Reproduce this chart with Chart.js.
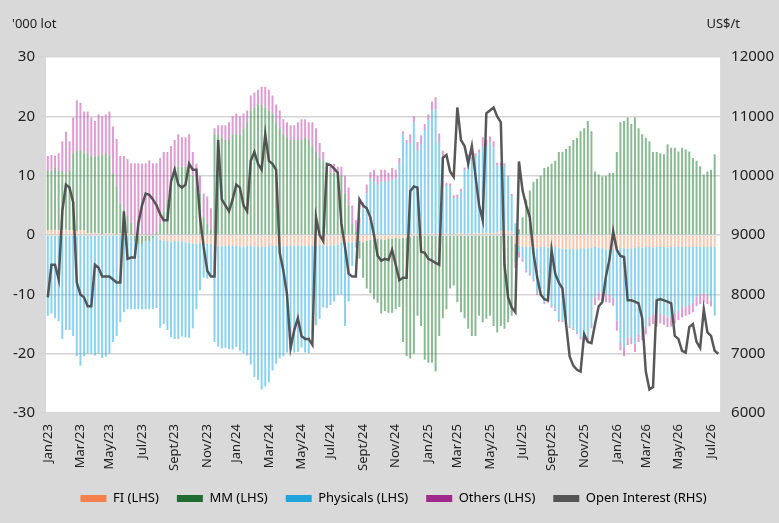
<!DOCTYPE html>
<html>
<head>
<meta charset="utf-8">
<script src="https://cdn.jsdelivr.net/npm/chart.js@4"></script>
<style>
  html, body { margin: 0; padding: 0; background: #d9d9d9; }
  #wrap { width: 779px; height: 523px; }
</style>
</head>
<body>
<div id="wrap"><canvas id="c"></canvas></div>
<script>
// weekly data, first week 2 Jan 2023, 185 weeks ('000 lots, OI in US$/t scale)
const fi = [
  0.8,0.8,0.9,0.8,0.8,0.9,0.8,0.8,0.7,0.8,0.8,
  0.3,0.3,0.4,0.3,0.2,0.3,0.3,0.3,0.2,0.3,0.3,0.3,
  0.1,0.1,0.1,0,0.1,0.1,0.1,0.1,
  -0.8,-1,-1,-1.2,-1,-1,-1.1,-1.2,-1.3,-1.4,-1.5,-1.3,-1.4,-1.5,-1.5,
  -1.8,-1.8,-1.9,-1.8,-1.7,-1.8,-1.8,-2,-1.9,-1.8,-1.8,-1.9,-1.9,-2,-2,-1.8,-1.8,-1.7,-1.8,-1.9,-1.8,-1.8,-1.8,-1.7,-1.8,-1.8,-1.9,-1.8,-1.7,-1.6,-1.7,-1.8,-1.8,-1.7,-1.6,
  -1.2,-1.3,-1.2,-1.2,-1.1,-1,-1.2,-1,-0.8,-0.8,
  -0.6,-0.7,-0.8,-0.6,-0.6,-0.5,-0.6,-0.5,-0.4,-0.3,
  0.3,0.2,0.3,0.2,0.3,0.3,0.2,0.3,0.2,0.3,0.2,0.2,0.3,0.3,0.2,0.3,0.2,0.3,0.3,0.3,0.4,0.3,0.3,0.4,
  0.7,0.8,0.7,0.6,
  -1.5,-1.8,-2,-2,-2,-2.1,-2.2,-2,-2,-2.1,-2,-2,-2.2,-2.3,-2.3,-2.4,-2.4,-2.4,-2.3,-2.2,-2.2,-2.1,-2,-2.1,-2.2,-2.4,-2.5,-2.4,-2.3,-2.2,-2.2,-2.3,-2.2,-2.1,-2,-2.1,-2,-2,-2.1,-2,-2,-2,-2.1,-2,-2,-1.9,-2,-2,-2,-2,-1.9,-2,-2,-2,-2,-2
];
const mm = [
  10,10,10.5,10, 10,9.5,10, 13,13.5,13.5,13,13.5, 13,12.8,13,13.3,13.5,13, 10,8,
  5,4,3,2, -1,-1.5,-1.5,-1,-1,-0.5,0.5, 2,4,6,8, 11,11.5,11.5,11.5,11, 10,8,7, 3,2,1,
  17,17,16.5,16,16, 17,17,17,18,19, 21,21.5,22,22,21.5,21, 20.5,19,18,17,16.5,16,
  16,16,16,16.5,16, 15,14,13,12.5, 11,10.5,10.5,10,10, 7,5,2,0.5,
  -3,-6,-8,-9,-10,-10.8,-12.5,-12,-12.5, -12.5,-12,-11.5,-17.5,-20,
  -20.5,-20,-13.6,-15.3,-21,-21.5,-21.5,-23, -17,-14,-12.5,-9, -8.5,-11.3,-13, -14,-15.8,
  -17,-17,-13.6, -14.7,-14.1, -13.6,-15.3, -16.4,-15.3, -15.8,-14.7,-13.6, -3,1,3,
  6,7.5,9,9.5,10, 11.3,11.5,12,12.5,14,14, 14.5,15,16,16.4,17.5,18,19.2,
  17.5,10.7,10.2,9.9,10,10.5,10.5, 14,19,19.2,19.8,18.7,19.8,18,17,16.4,15.8,
  14,14,13.8,13.6,15.3,14.7,14.7,14.1,14.7,14.4,14.1, 13,12.5,11.6,10.2,10.7,11,13.6
];
const physicals = [
  -13.6,-13.2,-14,-14.5, -17.5,-16,-16, -17,-20.4,-22,-20.4,-20, -20,-20.3,-20,-20.7,-20.5,-20, -18,-17,
  -14.7,-13,-12.5,-12.5, -11.5,-11,-11,-11.5,-11.5,-12,-12.3, -14.8,-14,-15,-16, -16.5,-16.5,-16,-16,-16,
  -14.3,-11,-8, -5.8,-5.8,-5.5,
  -16.2,-17,-17.2,-17.2,-17.5, -17.5,-17,-17.5,-18,-18.5, -20,-22,-22.5,-24,-23.5,-23, -21,-20,-19,-18.5,-18,-17.7,
  -18,-18,-17.2,-18,-18, -15,-13.5,-12.5,-10.5, -10.5,-10,-9.5,-8.5,-8.8, -14,-10,-4,-1,
  2,4.5,7,9.6,9,8.5,9,9,9, 9.3,9.5,12,17,15.5,
  15.5,18.7,14,15,17.5,19,20.7,21, 15.3,13,8,8, 6,6,7, 10.7,13, 12.5,13,13.6, 14.7,14.7, 15.3,14.5,
  11.3,11, 11,9,6, 2,-1,-2,
  -4,-4.5,-5.4,-7.6,-8, -9.3,-9,-9.9,-10.5,-12.1,-12.1, -12.5,-13,-13.3,-14,-15,-15,-15,
  -13.3,-8.5,-7.6,-7.6,-7.6,-7.6,-8.2,
  -12.1,-16,-16.8,-15,-15,-16.2,-14.8,-14.4,-13.5,-11.8,
  -11.3,-11.8,-11.3,-11.5,-11.8,-11.8,-11.3,-10.8,-10.3,-10,-9.8,
  -9.4,-8.5,-8,-7.8,-8,-9,-11.6
];
const others = [
  2.5,2.7,2,3, 5,7,5, 6,8.5,8,7,7, 6.5,6,7,6.5,6.5,7.5, 8,8,
  8,9,9.5,10, 12,12,12,12,12.5,12,11.5, 11,10,8,7, 5,5.5,5,5,6, 4,4,3, 4,4.5,3.5,
  1,1.5,2,2.5,3, 3,3.5,3,2.5,2, 2.5,2.5,2.5,3,3.5,3.5, 3,3,3,2.5,2.5,2.5,
  2.5,3,3.5,3,3, 4,4,2.5,1.5, 0.5,1,1.5,1.5,1.5, 3,3,3,2,
  1,1,1.5,1,2,1.5,2,2,1.5, 2,1.5,1,0.5,0.5,
  1.5,1,1.5,1.5,1,1,1.5,2, 1.5,1,0.5,0.5, 0.5,0.5,0.5, 0.5,0.3, 0.5,0.5,0.5, 1.5,1, 1,1,
  0.5,0.5, 0.3,0.3,0.3, -1,-1,-0.5,
  -0.3,-0.3,-0.3,-0.3,-0.3,-0.3,-0.3,-0.3,-0.3,-0.3,-0.3,-0.3,-0.3,-0.3,-0.3,-0.3,
  -0.6,-0.6,-0.3, -1.3,-1.3,-1.3,-1.3,-1.3,-1.3,
  -1.7,-1.2,-1.4,-1.2,-1.2,-1.4,-1.2,-1.2,-1.2,-1.6,
  -1.6,-1.6,-1.6,-1.6,-1.6,-1.6,-1.6,-1.6,-1.6,-1.6,-1.6,-1.6,-1.6,-1.6,-1.6,-1.6,
  -1,0
];
const openInterest = [
  7950,8500,8500,8250,9400,9850,9800,9550,8200,8000,7950,7800,7800,8500,8450,8300,8300,8300,8250,8200,
  8200,9400,8600,8620,8620,9200,9500,9700,9680,9600,9500,9350,9250,9250,9900,10100,9850,9800,9850,10200,
  10100,10100,9300,8800,8400,8300,8300,10600,9600,9500,9400,9600,9850,9800,9500,9400,10250,10400,10200,10100,
  10700,10250,10200,10100,8700,8400,8000,7100,7400,7600,7300,7250,7250,7150,9300,9000,8900,10200,10180,10120,
  10050,9200,8800,8350,8300,8300,9600,9500,9450,9300,9000,8650,8570,8600,8580,8750,8500,8240,8280,8280,
  9740,9820,9800,8720,8700,8600,8570,8530,8500,10300,10350,10070,9980,11150,10600,10500,10200,10500,10000,9500,
  9250,11050,11100,11150,11000,10900,8500,7950,7780,7700,10240,9750,9500,9300,8700,8300,8000,7920,7900,8750,
  8350,8200,8100,7500,6950,6800,6730,6700,7330,7200,7180,7500,7800,7870,8300,8600,9060,8750,8650,8630,
  7900,7900,7880,7850,7600,6700,6400,6440,7900,7920,7900,7880,7850,7300,7250,7050,7020,7450,7500,7200,
  7100,7750,7360,7300,7050,7000
];

const monthNames = ['Jan','Feb','Mar','Apr','May','Jun','Jul','Aug','Sept','Oct','Nov','Dec'];
const weeks = [];
const start = new Date(Date.UTC(2023, 0, 2));
for (let i = 0; i < openInterest.length; i++) {
  weeks.push(new Date(start.getTime() + i * 7 * 86400000));
}
// show a tick label on the first week of Jan, Mar, May, Jul, Sept, Nov
function tickLabel(i) {
  const d = weeks[i];
  if (!d || d.getUTCMonth() % 2 !== 0) return '';
  const prev = weeks[i - 1];
  if (prev && prev.getUTCMonth() === d.getUTCMonth()) return '';
  return monthNames[d.getUTCMonth()] + '/' + String(d.getUTCFullYear()).slice(2);
}

const legendColours = ['#f4804b', '#1f6b30', '#21a3dc', '#a0288c', '#555555'];
const font = { family: 'Noto Sans', size: 13 };

const whiteArea = {
  id: 'whiteArea',
  beforeDraw(chart) {
    const { ctx, chartArea: a } = chart;
    ctx.save();
    ctx.fillStyle = '#ffffff';
    ctx.fillRect(a.left, a.top, a.right - a.left, a.bottom - a.top);
    ctx.restore();
  },
  afterDraw(chart) {
    const ctx = chart.ctx;
    ctx.save();
    ctx.fillStyle = '#222';
    ctx.font = '13px "Noto Sans"';
    ctx.textAlign = 'left';
    ctx.fillText("'000 lot", 12, 24);
    ctx.textAlign = 'right';
    ctx.fillText('US$/t', 740, 24);
    ctx.restore();
  }
};

const barOpts = { categoryPercentage: 1, barPercentage: 0.55, stack: 's', yAxisID: 'y', order: 2 };

new Chart(document.getElementById('c'), {
  data: {
    labels: weeks.map((d, i) => i),
    datasets: [
      { type: 'bar', label: 'FI (LHS)', data: fi, backgroundColor: 'rgba(248,160,120,0.6)', ...barOpts },
      { type: 'bar', label: 'MM (LHS)', data: mm, backgroundColor: 'rgba(60,140,75,0.6)', ...barOpts },
      { type: 'bar', label: 'Physicals (LHS)', data: physicals, backgroundColor: 'rgba(60,180,230,0.6)', ...barOpts },
      { type: 'bar', label: 'Others (LHS)', data: others, backgroundColor: 'rgba(200,90,180,0.6)', ...barOpts },
      { type: 'line', label: 'Open Interest (RHS)', data: openInterest, yAxisID: 'y1', borderColor: 'rgba(70,70,70,0.9)',
        borderWidth: 2.5, pointRadius: 0, tension: 0, order: 1 }
    ]
  },
  options: {
    responsive: true,
    maintainAspectRatio: false,
    animation: false,
    layout: { padding: { top: 57, left: 10, right: 2, bottom: 8 } },
    plugins: {
      tooltip: { enabled: false },
      legend: {
        position: 'bottom',
        labels: {
          font: font, color: '#222', boxWidth: 26, boxHeight: 7, padding: 18,
          generateLabels(chart) {
            return chart.data.datasets.map((ds, i) => ({
              text: ds.label, fillStyle: legendColours[i], strokeStyle: legendColours[i],
              lineWidth: 0, datasetIndex: i,
              pointStyle: ds.type === 'line' ? 'line' : 'rect'
            }));
          }
        }
      }
    },
    scales: {
      x: {
        stacked: true,
        grid: { display: false },
        border: { display: false },
        ticks: {
          autoSkip: false, maxRotation: 90, minRotation: 90, font: font, color: '#222',
          callback: (v, i) => tickLabel(i)
        }
      },
      y: {
        stacked: true, min: -30, max: 30,
        ticks: { stepSize: 10, font: { family: 'Noto Sans', size: 15 }, color: '#222' },
        grid: { color: '#d4d4d4', lineWidth: 1.5 },
        border: { display: false }
      },
      y1: {
        position: 'right', min: 6000, max: 12000,
        ticks: { stepSize: 1000, font: { family: 'Noto Sans', size: 15 }, color: '#222',
          callback: v => String(v) },
        grid: { display: false },
        border: { display: false }
      }
    }
  },
  plugins: [whiteArea]
});
</script>
</body>
</html>
